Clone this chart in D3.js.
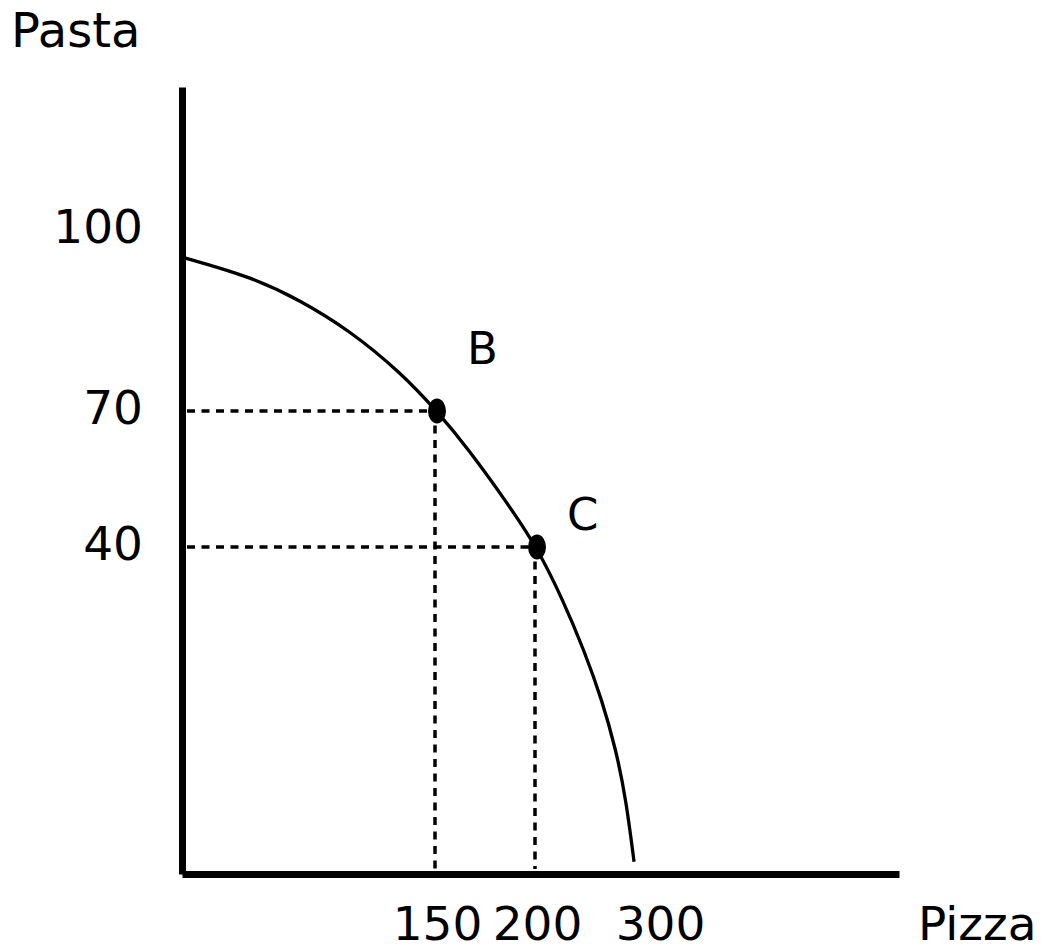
<!DOCTYPE html>
<html>
<head>
    <title>Pasta / Pizza PPF</title>
    <style>
        html, body {
            margin: 0;
            padding: 0;
            background: #fff;
        }
        svg text {
            font-family: "DejaVu Sans", sans-serif;
            fill: #000;
        }
    </style>
    <script src="https://d3js.org/d3.v7.min.js"></script>
</head>
<body>
<svg id="chart"></svg>
<script>
// tick values on each axis (the axes are drawn as a sketch, not to scale)
const xTicks = [150, 200, 300];
const yTicks = [40, 70, 100];

// production possibilities frontier
const ppfPizza = [0, 40, 69.4, 98.8, 128.2, 150, 166, 184, 200, 221.1, 238.2, 252.8, 264.2, 272.4, 278.9];
const ppfPasta = [95.5, 92.3, 88.4, 83.3, 76.5, 70, 61.4, 50.4, 40, 33.5, 27.4, 21.3, 15.2, 9.1, 1.5];

// marked points
const pointNames = ["B", "C"];
const pointPizza = [150, 200];
const pointPasta = [70, 40];

const width = 1041, height = 949;
const svg = d3.select("#chart").attr("width", width).attr("height", height);

// piecewise scales, since the tick spacing in the sketch is uneven
const x = d3.scaleLinear()
    .domain([0, 150, 200, 300, 496])
    .range([182, 437, 537, 660, 899]);
const y = d3.scaleLinear()
    .domain([0, 40, 70, 100, 124])
    .range([874, 547, 411, 230, 87]);

const fontSize = 47;

// axes
const yAxis = svg.append("g")
    .attr("transform", `translate(${x(0)},0)`)
    .call(d3.axisLeft(y).tickValues(yTicks).tickSize(0).tickSizeOuter(0).tickPadding(39));
yAxis.select(".domain").attr("stroke", "#000").attr("stroke-width", 7);
yAxis.selectAll("text")
    .attr("font-size", fontSize)
    .attr("font-family", "DejaVu Sans")
    .attr("dy", "0.26em");

const xAxis = svg.append("g")
    .attr("transform", `translate(0,${y(0)})`)
    .call(d3.axisBottom(x).tickValues(xTicks).tickSize(0).tickSizeOuter(0).tickPadding(33));
xAxis.select(".domain").attr("stroke", "#000").attr("stroke-width", 7);
xAxis.selectAll("text")
    .attr("font-size", fontSize)
    .attr("font-family", "DejaVu Sans")
    .attr("dy", "0.71em");

// axis titles
svg.append("text")
    .attr("x", 11).attr("y", 47)
    .attr("font-size", 48)
    .text("Pasta");
svg.append("text")
    .attr("x", 918).attr("y", 940)
    .attr("font-size", fontSize)
    .text("Pizza");

// dashed guide lines from each point to the axes
const pts = pointNames.map((n, i) => ({ name: n, px: pointPizza[i], py: pointPasta[i] }));

svg.selectAll(".hguide")
    .data(pts)
    .enter()
    .append("line")
    .attr("class", "hguide")
    .attr("x1", x(0) + 5)
    .attr("x2", d => x(d.px))
    .attr("y1", d => y(d.py))
    .attr("y2", d => y(d.py))
    .attr("stroke", "#000")
    .attr("stroke-width", 3.5)
    .attr("stroke-dasharray", "8,6.5");

svg.selectAll(".vguide")
    .data(pts)
    .enter()
    .append("line")
    .attr("class", "vguide")
    .attr("x1", d => x(d.px) - 2)
    .attr("x2", d => x(d.px) - 2)
    .attr("y1", d => y(d.py))
    .attr("y2", y(0) - 5)
    .attr("stroke", "#000")
    .attr("stroke-width", 3.5)
    .attr("stroke-dasharray", "8,6.5");

// the frontier
const line = d3.line()
    .x(d => x(d[0]))
    .y(d => y(d[1]))
    .curve(d3.curveBasis);

svg.append("path")
    .datum(ppfPizza.map((v, i) => [v, ppfPasta[i]]))
    .attr("d", line)
    .attr("fill", "none")
    .attr("stroke", "#000")
    .attr("stroke-width", 3.3);

// points and their letters
svg.selectAll(".dot")
    .data(pts)
    .enter()
    .append("ellipse")
    .attr("class", "dot")
    .attr("cx", d => x(d.px))
    .attr("cy", d => y(d.py))
    .attr("rx", 9)
    .attr("ry", 12.5)
    .attr("fill", "#000");

svg.selectAll(".pt-label")
    .data(pts)
    .enter()
    .append("text")
    .attr("class", "pt-label")
    .attr("x", d => x(d.px) + 30)
    .attr("y", d => y(d.py) - (d.name === "B" ? 47 : 17))
    .attr("font-size", 45)
    .text(d => d.name);
</script>
</body>
</html>
